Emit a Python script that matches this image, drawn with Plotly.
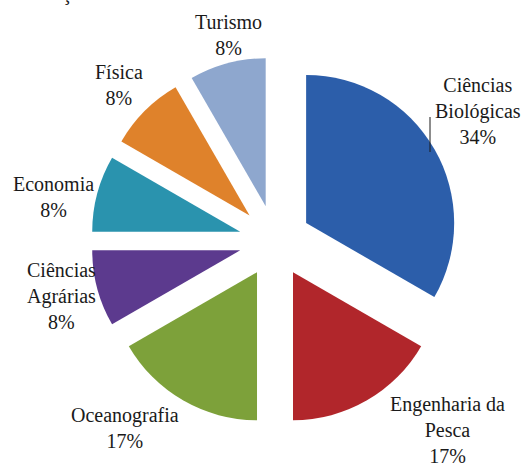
import plotly.graph_objects as go

# Data
categories = ["Ciências Biológicas", "Engenharia da Pesca", "Oceanografia",
              "Ciências Agrárias", "Economia", "Física", "Turismo"]
label_lines = ["Ciências<br>Biológicas", "Engenharia da<br>Pesca", "Oceanografia",
               "Ciências<br>Agrárias", "Economia", "Física", "Turismo"]
counts = [4, 2, 2, 1, 1, 1, 1]
pct_labels = ["34%", "17%", "17%", "8%", "8%", "8%", "8%"]

colors = ["#2C5EAA", "#B1262B", "#7DA13A", "#5C3A8E", "#2A93AE", "#DF822B", "#8EA7CE"]

# label anchor positions in pixels (x, y center)
label_pos = [(478, 111), (447, 430), (125, 428), (61, 296), (53, 197), (119, 85), (228, 35)]

W, H = 528, 470

fig = go.Figure(go.Pie(
    labels=categories,
    values=counts,
    sort=False,
    direction="clockwise",
    rotation=0,
    pull=[0.243] * len(counts),
    marker=dict(colors=colors, line=dict(width=0)),
    textinfo="none",
    hoverinfo="label+percent",
    domain=dict(x=[91 / W, 459 / W], y=[45 / H, 413 / H]),
    showlegend=False,
))

font = dict(family="Liberation Serif, Times New Roman, serif", size=20, color="#1a1a1a")
annotations = []
for lab, pct, (px, py) in zip(label_lines, pct_labels, label_pos):
    annotations.append(dict(
        x=px / W, y=1 - py / H, xref="paper", yref="paper",
        text=f"{lab}<br>{pct}", showarrow=False, align="center",
        xanchor="center", yanchor="middle", font=font,
    ))
# partially cut title at the top-left
annotations.append(dict(
    x=92 / W, y=1 - 7 / H, xref="paper", yref="paper", text="Formação",
    showarrow=False, xanchor="right", yanchor="bottom", font=font,
))

shapes = [dict(type="line", xref="paper", yref="paper",
               x0=430 / W, x1=430 / W, y0=1 - 117 / H, y1=1 - 152 / H,
               line=dict(color="#1a1a1a", width=1))]

fig.update_layout(
    width=W, height=H,
    margin=dict(l=0, r=0, t=0, b=0),
    paper_bgcolor="white", plot_bgcolor="white",
    annotations=annotations, shapes=shapes,
)

fig.write_html("out.html")
